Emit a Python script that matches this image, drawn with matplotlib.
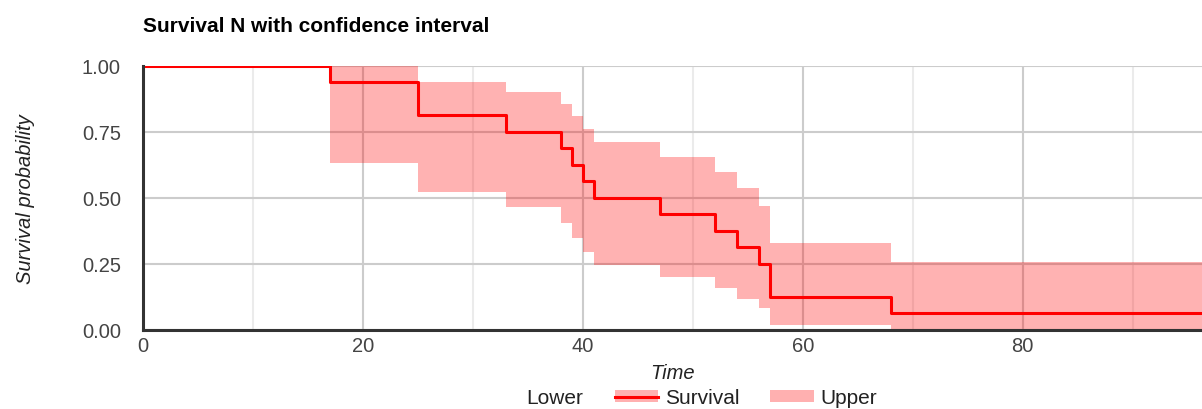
import matplotlib
matplotlib.use("Agg")
import matplotlib.pyplot as plt
from matplotlib.patches import Patch
from matplotlib.lines import Line2D
from matplotlib.legend_handler import HandlerTuple

# Kaplan-Meier steps
times = [0, 17, 25, 33, 38, 39, 40, 41, 47, 52, 54, 56, 57, 68, 100]
survival = [1.0, 0.9375, 0.8125, 0.75, 0.6875, 0.625, 0.5625, 0.5, 0.4375,
            0.375, 0.3125, 0.25, 0.125, 0.0625, 0.0625]
upper = [1.0, 1.0, 0.938, 0.90, 0.856, 0.812, 0.761, 0.711, 0.654,
         0.597, 0.537, 0.471, 0.330, 0.256, 0.256]
lower = [1.0, 0.633, 0.524, 0.465, 0.405, 0.347, 0.297, 0.246, 0.200,
         0.158, 0.117, 0.082, 0.019, 0.0, 0.0]
x_ticks = [0, 20, 40, 60, 80]
y_ticks = [0.0, 0.25, 0.5, 0.75, 1.0]

plt.rcParams['font.family'] = ['Liberation Sans', 'DejaVu Sans']

fig = plt.figure(figsize=(12.02, 4.10), dpi=100)
ax = fig.add_axes([0.119, 0.1927, 0.881, 0.644])

band_color = '#ffb0b0'
ax.fill_between(times, lower, upper, step='post', color='red', alpha=0.3,
                linewidth=0, zorder=3)
ax.step(times, survival, where='post', color='#ff0000', linewidth=2.2, zorder=4)

ax.set_xlim(0, 96.3)
ax.set_ylim(0, 1.0)
ax.set_xticks(x_ticks)
ax.set_xticks([10, 30, 50, 70, 90], minor=True)
ax.set_yticks(y_ticks)
ax.set_yticklabels([f"{v:.2f}" for v in y_ticks])

ax.grid(True, which='major', color='#cccccc', linewidth=1.5, zorder=1)
ax.grid(True, which='minor', axis='x', color='#ebebeb', linewidth=1.5, zorder=1)
ax.set_axisbelow(True)
ax.tick_params(which='both', length=0)
ax.tick_params(axis='y', labelsize=14.5, labelcolor='#444444', pad=16)
ax.tick_params(axis='x', labelsize=14.5, labelcolor='#444444', pad=4)

for side in ['top', 'right']:
    ax.spines[side].set_visible(False)
for side in ['left', 'bottom']:
    ax.spines[side].set_color('#333333')
    ax.spines[side].set_linewidth(2.2)
    ax.spines[side].set_zorder(5)

ax.set_xlabel("Time", fontsize=14.5, style='italic', color='#222222', labelpad=6)
ax.set_ylabel("Survival probability", fontsize=14.5, style='italic',
              color='#222222', labelpad=34)

fig.text(0.119, 0.935, "Survival N with confidence interval", fontsize=15,
         fontweight='bold', color='#000000', ha='left', va='center')

h_lower = Patch(facecolor='none', edgecolor='none')
h_surv = (Patch(facecolor=band_color, edgecolor='none'),
          Line2D([], [], color='#ff0000', linewidth=2.2))
h_upper = Patch(facecolor=band_color, edgecolor='none')
fig.legend([h_lower, h_surv, h_upper], ["Lower", "Survival", "Upper"],
           handler_map={tuple: HandlerTuple(ndivide=1)},
           loc='center', bbox_to_anchor=(0.563, 0.027), ncol=3, frameon=False,
           fontsize=15, handlelength=2.1, handleheight=0.5, handletextpad=0.3,
           columnspacing=1.5, labelcolor='#222222')

fig.savefig("out.png", dpi=100, facecolor='white')
